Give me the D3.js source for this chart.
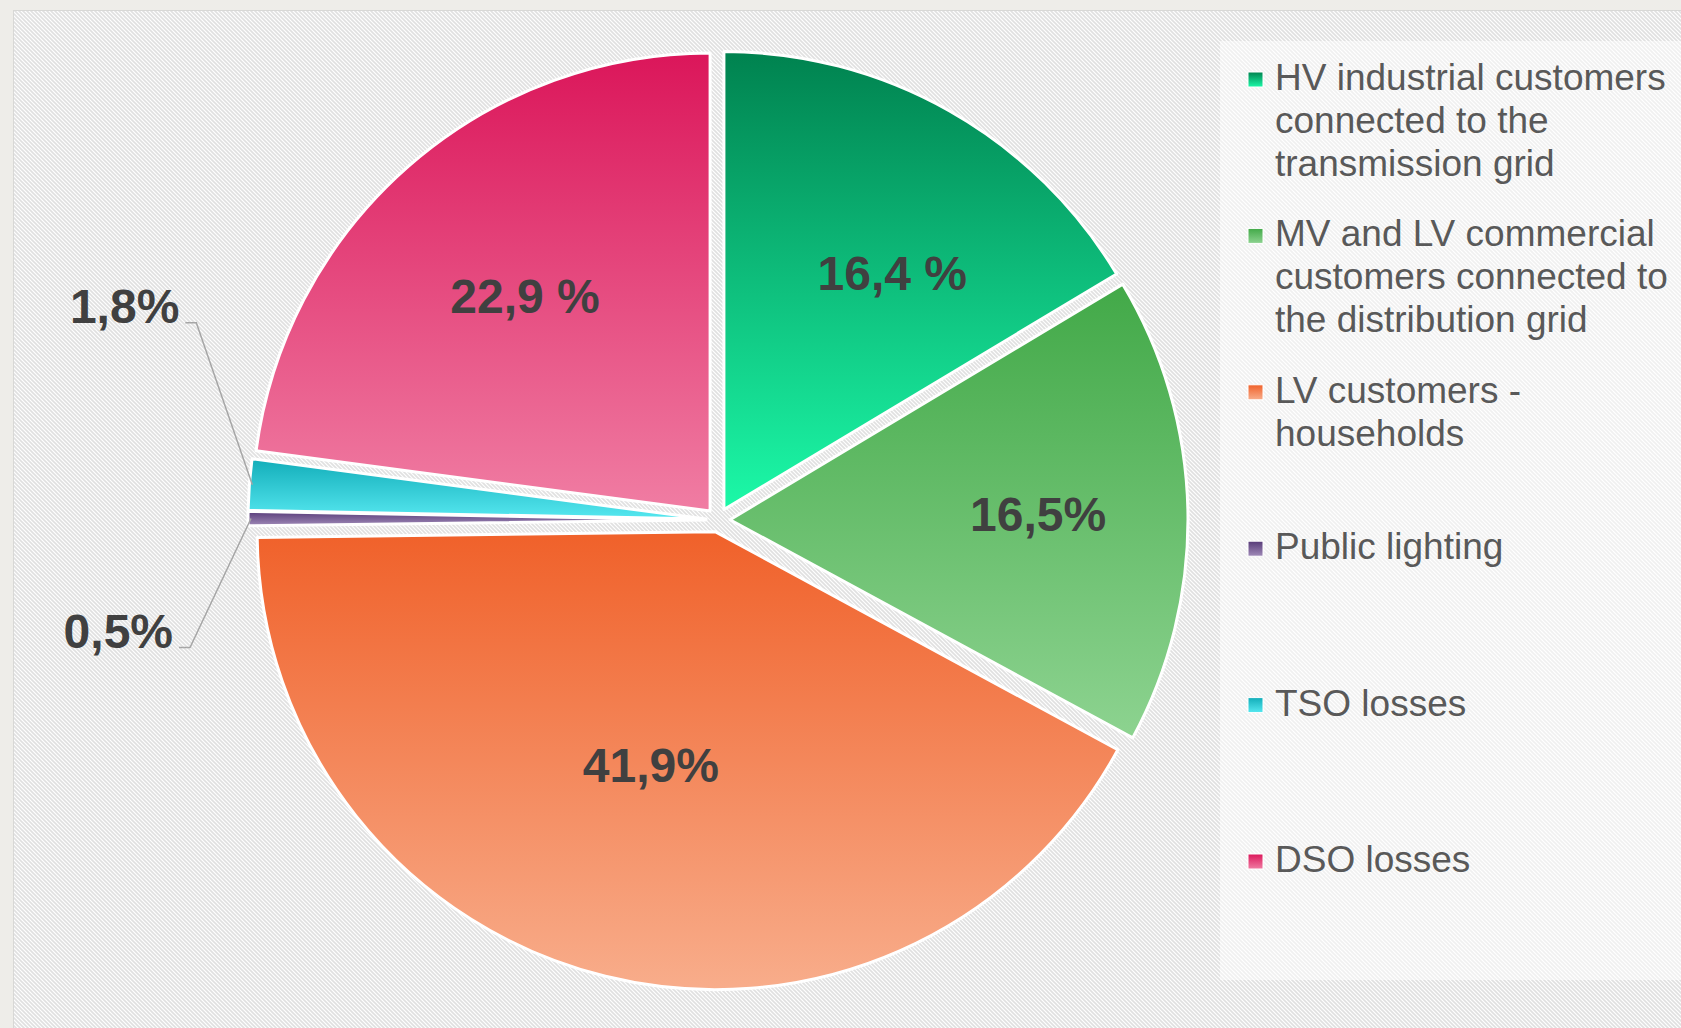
<!DOCTYPE html>
<html>
<head>
<meta charset="utf-8">
<script src="https://cdn.jsdelivr.net/npm/d3@7"></script>
<style>
  body { margin: 0; background: #eeede9; }
  text { font-family: "Liberation Sans", Arial, sans-serif; }
</style>
</head>
<body>
<div id="chart"></div>
<script>
// data
var categories = ["HV", "MV", "LV", "Public", "TSO", "DSO"];
var values = [16.4, 16.5, 41.9, 0.5, 1.8, 22.9];
var valueLabels = ["16,4 %", "16,5%", "41,9%", "0,5%", "1,8%", "22,9 %"];
var legendLines = [
    ["HV industrial customers", "connected to the", "transmission grid"],
    ["MV and LV commercial", "customers connected to", "the distribution grid"],
    ["LV customers -", "households"],
    ["Public lighting"],
    ["TSO losses"],
    ["DSO losses"]
];
var gradTop = ["#00824f", "#42a948", "#f0612a", "#573b78", "#12adb9", "#db165a"];
var gradBottom = ["#1cf9a8", "#8dd390", "#f8ad8b", "#a08ab8", "#56e8f0", "#f07da3"];

var W = 1681, H = 1028;
var cx = 718, cy = 520, radius = 458, explode = 12;

// label placement tweaks (inside labels: nudge from centroid, outside: offset from arc edge)
var labelNudge = { HV: [24, 18], MV: [15, 0], LV: [6, -52], DSO: [8, 5] };
var outsideLabel = { TSO: [-73, -162, 17], Public: [-78, 129, 17] };

var svg = d3.select("#chart")
    .append("svg")
    .attr("width", W)
    .attr("height", H);

var defs = svg.append("defs");

// hatched background
var pat = defs.append("pattern")
    .attr("id", "hatch")
    .attr("patternUnits", "userSpaceOnUse")
    .attr("width", 4)
    .attr("height", 4);
pat.append("rect").attr("width", 4).attr("height", 4).attr("fill", "#ffffff");
pat.append("path")
    .attr("d", "M-1,-1 L5,5 M-1,3 L1,5 M3,-1 L5,1")
    .attr("stroke", "#e0e0e0")
    .attr("stroke-width", 1.6);

categories.forEach(function(c, i) {
    var g = defs.append("linearGradient")
        .attr("id", "grad" + c)
        .attr("x1", 0).attr("y1", 0)
        .attr("x2", 0).attr("y2", 1);
    g.append("stop").attr("offset", "0%").attr("stop-color", gradTop[i]);
    g.append("stop").attr("offset", "100%").attr("stop-color", gradBottom[i]);
});

svg.append("rect")
    .attr("x", 13.5)
    .attr("y", 10.5)
    .attr("width", W)
    .attr("height", H)
    .attr("fill", "url(#hatch)")
    .attr("stroke", "#d8d8d6")
    .attr("stroke-width", 1);

// lighter panel behind legend
svg.append("rect")
    .attr("x", 1220)
    .attr("y", 41)
    .attr("width", W - 1220)
    .attr("height", 939)
    .attr("fill", "#ffffff")
    .attr("opacity", 0.5);

var data = categories.map(function(c, i) {
    return { key: c, value: values[i], label: valueLabels[i] };
});

var pie = d3.pie()
    .sort(null)
    .value(d => d.value);

var arcs = pie(data);

var arc = d3.arc()
    .innerRadius(0)
    .outerRadius(radius);

var labelArc = d3.arc()
    .innerRadius(radius * 0.64)
    .outerRadius(radius * 0.64);

function shift(d) {
    var a = (d.startAngle + d.endAngle) / 2;
    return [Math.sin(a) * explode, -Math.cos(a) * explode];
}

var pieG = svg.append("g")
    .attr("transform", "translate(" + cx + "," + cy + ")");

pieG.selectAll("path.slice")
    .data(arcs)
    .join("path")
    .attr("class", "slice")
    .attr("transform", d => "translate(" + shift(d) + ")")
    .attr("d", arc)
    .attr("fill", d => "url(#grad" + d.data.key + ")")
    .attr("stroke", "#ffffff")
    .attr("stroke-width", 3)
    .attr("stroke-linejoin", "round");

// labels inside slices
pieG.selectAll("text.inside")
    .data(arcs.filter(d => labelNudge[d.data.key]))
    .join("text")
    .attr("class", "inside")
    .attr("x", d => labelArc.centroid(d)[0] + shift(d)[0] + labelNudge[d.data.key][0])
    .attr("y", d => labelArc.centroid(d)[1] + shift(d)[1] + labelNudge[d.data.key][1])
    .attr("dy", "0.36em")
    .attr("text-anchor", "middle")
    .style("font-size", "48px")
    .style("font-weight", "bold")
    .attr("fill", "#404040")
    .text(d => d.data.label);

// small slices: labels outside with leader lines
var outer = arcs.filter(d => outsideLabel[d.data.key]);

function edgePoint(d) {
    var a = (d.startAngle + d.endAngle) / 2;
    var r = radius + explode - 3;
    return [Math.sin(a) * r, -Math.cos(a) * r];
}

pieG.selectAll("polyline.leader")
    .data(outer)
    .join("polyline")
    .attr("class", "leader")
    .attr("points", function(d) {
        var p = edgePoint(d);
        var o = outsideLabel[d.data.key];
        var ex = p[0] + o[0], ey = p[1] + o[1];
        return [p, [ex + o[2], ey], [ex + 6, ey]].map(q => q.join(",")).join(" ");
    })
    .attr("fill", "none")
    .attr("stroke", "#a6a6a6")
    .attr("stroke-width", 1.5);

pieG.selectAll("text.outside")
    .data(outer)
    .join("text")
    .attr("class", "outside")
    .attr("x", d => edgePoint(d)[0] + outsideLabel[d.data.key][0])
    .attr("y", d => edgePoint(d)[1] + outsideLabel[d.data.key][1])
    .attr("text-anchor", "end")
    .style("font-size", "48px")
    .style("font-weight", "bold")
    .attr("fill", "#404040")
    .text(d => d.data.label);

// legend
var legY = d3.scaleLinear()
    .domain([0, categories.length - 1])
    .range([90, 872]);

var leg = svg.append("g")
    .selectAll("g")
    .data(categories)
    .join("g")
    .attr("transform", (d, i) => "translate(1248," + legY(i) + ")");

leg.append("rect")
    .attr("x", 0)
    .attr("y", -18)
    .attr("width", 15)
    .attr("height", 15)
    .attr("fill", d => "url(#grad" + d + ")")
    .attr("stroke", "#ffffff")
    .attr("stroke-width", 1);

leg.append("text")
    .attr("x", 27)
    .attr("y", 0)
    .style("font-size", "37px")
    .attr("fill", "#595959")
    .selectAll("tspan")
    .data((d, i) => legendLines[i])
    .join("tspan")
    .attr("x", 27)
    .attr("dy", (d, j) => j == 0 ? 0 : 43)
    .text(d => d);
</script>
</body>
</html>
